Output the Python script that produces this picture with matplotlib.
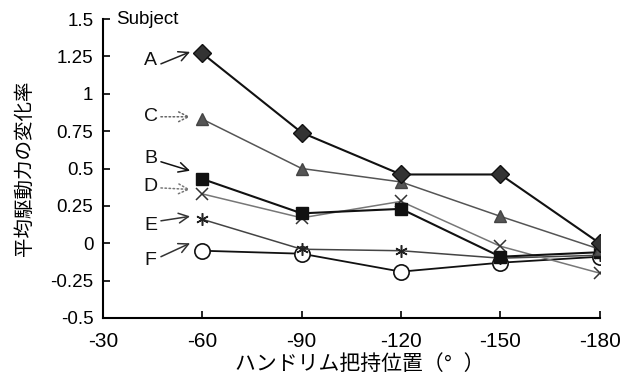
import matplotlib.pyplot as plt

plt.rcParams['font.family'] = ['Liberation Sans', 'Noto Sans CJK JP', 'DejaVu Sans']

# grip positions (deg)
angles = [-60, -90, -120, -150, -180]
subj_A = [1.27, 0.74, 0.46, 0.46, 0.00]
subj_B = [0.43, 0.20, 0.23, -0.09, -0.06]
subj_C = [0.83, 0.50, 0.41, 0.18, -0.04]
subj_D = [0.33, 0.17, 0.28, -0.02, -0.20]
subj_E = [0.16, -0.04, -0.05, -0.10, -0.08]
subj_F = [-0.05, -0.07, -0.19, -0.13, -0.09]

xticks = [-30, -60, -90, -120, -150, -180]
yticks = [-0.5, -0.25, 0, 0.25, 0.5, 0.75, 1, 1.25, 1.5]
ylabels = ['-0.5', '-0.25', '0', '0.25', '0.5', '0.75', '1', '1.25', '1.5']

# subject label positions and arrow ends
labels = ['A', 'C', 'B', 'D', 'E', 'F']
label_y = [1.22, 0.846, 0.565, 0.378, 0.117, -0.117]
arrow_from = [1.20, 0.846, 0.545, 0.37, 0.15, -0.09]
arrow_to = [1.28, 0.846, 0.485, 0.36, 0.18, 0.0]

fig = plt.figure(figsize=(6.38, 3.77), dpi=100)
ax = fig.add_axes([0.1614, 0.1565, 0.7786, 0.7931])

ax.plot(angles, subj_F, '-', color='#111111', lw=1.3, marker='o', ms=11,
        mfc='white', mec='#111111', mew=1.2, zorder=3)
ax.plot(angles, subj_E, '-', color='#444444', lw=1.1, marker=(6, 2, 0), ms=9,
        mec='#222222', mew=1.1, zorder=3)
ax.plot(angles, subj_D, '-', color='#777777', lw=1.1, marker='x', ms=9,
        mec='#333333', mew=1.1, zorder=3)
ax.plot(angles, subj_B, '-', color='#111111', lw=1.5, marker='s', ms=8,
        mfc='#111111', mec='#111111', zorder=3)
ax.plot(angles, subj_C, '-', color='#555555', lw=1.1, marker='^', ms=9,
        mfc='#555555', mec='#444444', zorder=3)
ax.plot(angles, subj_A, '-', color='#111111', lw=1.5, marker='D', ms=9,
        mfc='#333333', mec='#111111', zorder=4)

arrow_col = ['#222222', '#666666', '#111111', '#777777', '#333333', '#333333']
arrow_ls = ['-', ':', '-', ':', '-', '-']
for lab, ly, fy, ty, col, ls in zip(labels, label_y, arrow_from, arrow_to, arrow_col, arrow_ls):
    ax.text(-44.4, ly, lab, fontsize=14, ha='center', va='center', color='#111111')
    ax.annotate('', xy=(-56.3, ty), xytext=(-47.5, fy),
                arrowprops=dict(arrowstyle='->,head_length=0.7,head_width=0.35',
                                color=col, lw=1.1, ls=ls, shrinkA=0, shrinkB=0))

ax.text(-34, 1.5, 'Subject', fontsize=13.5, ha='left', va='center')

ax.set_xlim(-30, -180)
ax.set_ylim(-0.5, 1.5)
ax.set_xticks(xticks)
ax.set_xticklabels([str(v) for v in xticks], fontsize=15)
ax.set_yticks(yticks)
ax.set_yticklabels(ylabels, fontsize=13.5)
ax.tick_params(axis='y', direction='in', length=5, width=1.2, pad=7)
ax.tick_params(axis='x', direction='in', length=5, width=1.2, pad=10)
ax.spines['top'].set_visible(False)
ax.spines['right'].set_visible(False)
ax.spines['left'].set_linewidth(1.5)
ax.spines['bottom'].set_linewidth(1.5)

ax.set_ylabel('平均駆動力の変化率', fontsize=14, labelpad=12)
ax.set_xlabel('ハンドリム把持位置（°  ）', fontsize=15)
ax.xaxis.set_label_coords(0.517, -0.122)

fig.savefig('out.png', dpi=100)
